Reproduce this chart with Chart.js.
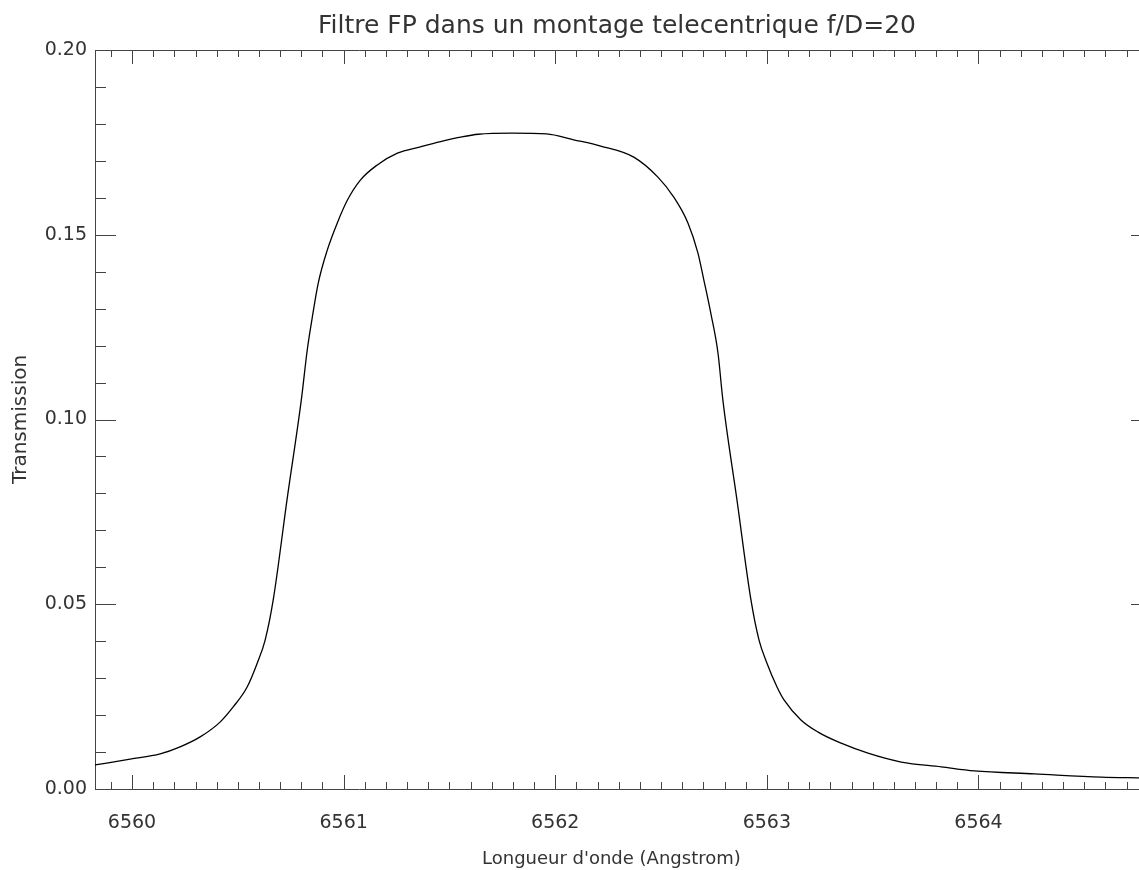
<!DOCTYPE html>
<html lang="fr">
<head>
  <meta charset="UTF-8">
  <title>Filtre FP</title>
  <script src="https://cdn.jsdelivr.net/npm/chart.js"></script>
  <style>
    html, body { margin: 0; padding: 0; background: #fff; overflow: hidden; }
    #wrap { width: 1139px; height: 870px; overflow: hidden; }
  </style>
</head>
<body>
  <div id="wrap">
    <canvas id="fpChart" width="1152" height="870"></canvas>
  </div>

  <script>
    // Longueur d'onde (A) et transmission
    const wavelengths = [
      6559.825, 6559.991, 6560.133, 6560.227, 6560.322, 6560.416, 6560.478, 6560.544,
      6560.592, 6560.629, 6560.667, 6560.733, 6560.800, 6560.828, 6560.852, 6560.880,
      6560.923, 6560.970, 6561.018, 6561.079, 6561.159, 6561.254, 6561.363, 6561.458,
      6561.552, 6561.637, 6561.798, 6561.959, 6562.087, 6562.215, 6562.371, 6562.485,
      6562.560, 6562.627, 6562.674, 6562.702, 6562.735, 6562.769, 6562.792, 6562.858,
      6562.925, 6562.963, 6563.000, 6563.048, 6563.081, 6563.161, 6563.242, 6563.351,
      6563.478, 6563.635, 6563.824, 6563.980, 6564.264, 6564.581, 6564.766
    ];
    const transmission = [
      0.0065, 0.0081, 0.0095, 0.0114, 0.0141, 0.0181, 0.0222, 0.0276,
      0.0341, 0.0403, 0.0511, 0.0785, 0.1053, 0.1188, 0.1277, 0.1369,
      0.1459, 0.1532, 0.1594, 0.1648, 0.1689, 0.1721, 0.1738, 0.1752,
      0.1764, 0.1772, 0.1775, 0.1773, 0.1757, 0.1740, 0.1710, 0.1656,
      0.1602, 0.1532, 0.1451, 0.1378, 0.1288, 0.1180, 0.1053, 0.0785,
      0.0511, 0.0403, 0.0341, 0.0276, 0.0241, 0.0187, 0.0154, 0.0124,
      0.0097, 0.0073, 0.0060, 0.0049, 0.0041, 0.0032, 0.0030
    ];
    const xTickLabels = [6560, 6561, 6562, 6563, 6564];
    const yTickLabels = [0.00, 0.05, 0.10, 0.15, 0.20];

    const axisColor = '#444';
    const textColor = '#333';
    const fontFamily = '"DejaVu Sans", sans-serif';

    // Axes style IDL : cadre complet, graduations vers l'interieur, titres
    const idlFrame = {
      id: 'idlFrame',
      afterDraw(chart) {
        const {ctx, chartArea: a, scales: {x, y}} = chart;
        ctx.save();
        ctx.strokeStyle = axisColor;
        ctx.lineWidth = 1;
        ctx.beginPath();
        ctx.moveTo(a.left, a.top + 0.5);
        ctx.lineTo(a.right, a.top + 0.5);
        ctx.moveTo(a.right - 0.5, a.top);
        ctx.lineTo(a.right - 0.5, a.bottom);
        // graduations x : 0.1 A, majeures tous les 1 A
        for (let i = Math.ceil(x.min * 10); i <= Math.floor(x.max * 10); i++) {
          const px = Math.round(x.getPixelForValue(i / 10)) + 0.5;
          const len = i % 10 === 0 ? 14 : 7;
          ctx.moveTo(px, a.bottom);
          ctx.lineTo(px, a.bottom - len);
          ctx.moveTo(px, a.top);
          ctx.lineTo(px, a.top + len);
        }
        // graduations y : 0.01, majeures tous les 0.05
        for (let j = 0; j <= 20; j++) {
          const py = Math.round(y.getPixelForValue(j / 100)) + 0.5;
          const len = j % 5 === 0 ? 21 : 11;
          ctx.moveTo(a.left, py);
          ctx.lineTo(a.left + len, py);
          ctx.moveTo(a.right, py);
          ctx.lineTo(a.right - len, py);
        }
        ctx.stroke();

        ctx.fillStyle = textColor;
        ctx.textAlign = 'left';
        ctx.textBaseline = 'alphabetic';
        ctx.font = '25px ' + fontFamily;
        ctx.fillText('Filtre FP dans un montage telecentrique f/D=20', 318, 33);
        ctx.font = '18px ' + fontFamily;
        ctx.fillText("Longueur d'onde (Angstrom)", 482, 864);
        ctx.restore();
      }
    };

    new Chart(document.getElementById('fpChart').getContext('2d'), {
      type: 'line',
      data: {
        datasets: [{
          data: wavelengths.map((w, i) => ({x: w, y: transmission[i]})),
          borderColor: '#000',
          borderWidth: 1.3,
          pointRadius: 0,
          fill: false,
          cubicInterpolationMode: 'monotone'
        }]
      },
      options: {
        responsive: false,
        animation: false,
        layout: { padding: { top: 50, right: 0, left: 0, bottom: 0 } },
        plugins: {
          legend: { display: false },
          tooltip: { enabled: false },
          title: { display: false }
        },
        scales: {
          x: {
            type: 'linear',
            min: 6559.825,
            max: 6564.82,
            afterFit: s => { s.height = 81; },
            afterBuildTicks: s => { s.ticks = xTickLabels.map(v => ({value: v})); },
            grid: { display: false, drawTicks: false },
            border: { display: true, color: axisColor, width: 1 },
            ticks: {
              padding: 23,
              maxRotation: 0,
              color: textColor,
              font: { family: fontFamily, size: 19 },
              callback: v => String(v)
            }
          },
          y: {
            type: 'linear',
            min: 0,
            max: 0.2,
            afterFit: s => { s.width = 95; },
            afterBuildTicks: s => { s.ticks = yTickLabels.map(v => ({value: v})); },
            grid: { display: false, drawTicks: false },
            border: { display: true, color: axisColor, width: 1 },
            title: {
              display: true,
              text: 'Transmission',
              color: textColor,
              font: { family: fontFamily, size: 20 },
              padding: { top: 9, bottom: 0 }
            },
            ticks: {
              padding: 8,
              color: textColor,
              font: { family: fontFamily, size: 19 },
              callback: v => v.toFixed(2)
            }
          }
        }
      },
      plugins: [idlFrame]
    });
  </script>
</body>
</html>
